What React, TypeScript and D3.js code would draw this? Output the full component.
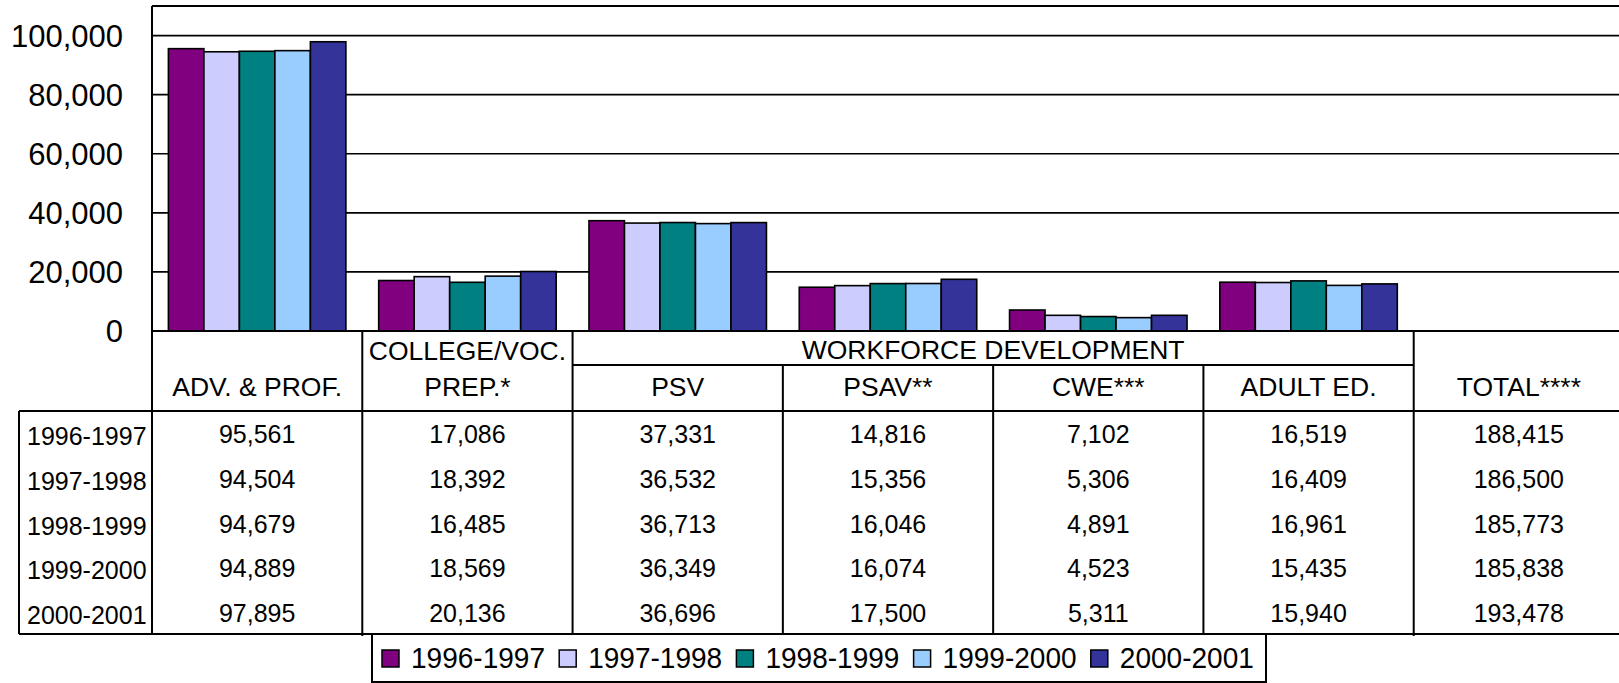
import React from "react";
import * as d3 from "d3";

const categories = ["ADV. & PROF.", "COLLEGE/VOC. PREP.*", "PSV", "PSAV**", "CWE***", "ADULT ED.", "TOTAL****"];
const headerLines = [["ADV. & PROF."], ["COLLEGE/VOC.", "PREP.*"], ["PSV"], ["PSAV**"], ["CWE***"], ["ADULT ED."], ["TOTAL****"]];
const groupLabel = "WORKFORCE DEVELOPMENT";
const groupMembers = ["PSV", "PSAV**", "CWE***", "ADULT ED."];
const plottedCategories = ["ADV. & PROF.", "COLLEGE/VOC. PREP.*", "PSV", "PSAV**", "CWE***", "ADULT ED."];

const years = ["1996-1997", "1997-1998", "1998-1999", "1999-2000", "2000-2001"];
const values1996 = [95561, 17086, 37331, 14816, 7102, 16519, 188415];
const values1997 = [94504, 18392, 36532, 15356, 5306, 16409, 186500];
const values1998 = [94679, 16485, 36713, 16046, 4891, 16961, 185773];
const values1999 = [94889, 18569, 36349, 16074, 4523, 15435, 185838];
const values2000 = [97895, 20136, 36696, 17500, 5311, 15940, 193478];
const seriesValues = [values1996, values1997, values1998, values1999, values2000];
const colors = ["#800080", "#CCCCFF", "#008080", "#99CCFF", "#333399"];
const yTicks = [0, 20000, 40000, 60000, 80000, 100000];
const yMax = 110000;

const W = 1619;
const H = 683;
const FONT = "'Liberation Sans', Arial, Helvetica, sans-serif";

export default function App() {
  const plotLeft = 152, plotRight = 1624, plotTop = 6, plotBottom = 331;
  const headerMid = 365, tableTop = 411, tableBottom = 634, rowLabelLeft = 19;

  const x = d3.scaleBand<string>().domain(categories).range([plotLeft, plotRight]);
  const bw = x.bandwidth();
  const groupW = bw * 0.844;
  const xInner = d3.scaleBand<string>().domain(years).range([0, groupW]);
  const y = d3.scaleLinear().domain([0, yMax]).range([plotBottom, plotTop]);
  const rowY = d3.scaleBand<string>().domain(years).range([tableTop, tableBottom]);
  const fmt = d3.format(",");

  const bars: JSX.Element[] = [];
  years.forEach((yr, si) => {
    plottedCategories.forEach((c) => {
      const ci = categories.indexOf(c);
      const v = seriesValues[si][ci];
      const x0 = (x(c) as number) + (bw - groupW) / 2 + (xInner(yr) as number);
      bars.push(
        <rect key={yr + c} x={x0} y={y(v)} width={xInner.bandwidth()} height={y(0) - y(v)}
          fill={colors[si]} stroke="#000" strokeWidth={1.6} />
      );
    });
  });

  const boundaries = categories.slice(1).map((c) => x(c) as number);
  const groupStart = x(groupMembers[0]) as number;
  const groupEnd = (x(groupMembers[groupMembers.length - 1]) as number) + bw;

  const legendLeft = 372, legendTop = 634, legendBottom = 682, legendRight = 1266;
  const legendStep = 177.2;

  return (
    <div style={{ position: "absolute", left: 0, top: 0 }}>
      <svg width={W} height={H} style={{ display: "block", background: "#fff" }} fontFamily={FONT}>
        <rect x={0} y={0} width={W} height={H} fill="#fff" />
        {/* gridlines */}
        {yTicks.filter((t) => t > 0).map((t) => (
          <line key={t} x1={plotLeft} x2={W} y1={y(t)} y2={y(t)} stroke="#000" strokeWidth={1.7} />
        ))}
        {/* plot top border */}
        <line x1={plotLeft} x2={W} y1={plotTop} y2={plotTop} stroke="#000" strokeWidth={2} />
        {/* y tick labels */}
        {yTicks.map((t) => (
          <text key={t} x={123} y={y(t) + 11} textAnchor="end" fontSize={31} fill="#000">{fmt(t)}</text>
        ))}
        {bars}
        {/* axis line */}
        <line x1={plotLeft} x2={W} y1={plotBottom} y2={plotBottom} stroke="#000" strokeWidth={2} />
        {/* plot left / first table line */}
        <line x1={plotLeft} x2={plotLeft} y1={plotTop} y2={tableBottom} stroke="#000" strokeWidth={2} />
        {/* table column boundaries */}
        {boundaries.map((bx, i) => {
          const inGroup = bx > groupStart + 1 && bx < groupEnd - 1;
          return (
            <line key={i} x1={bx} x2={bx} y1={inGroup ? headerMid : plotBottom} y2={tableBottom + 2}
              stroke="#000" strokeWidth={2} />
          );
        })}
        {/* group header underline */}
        <line x1={groupStart} x2={groupEnd} y1={headerMid} y2={headerMid} stroke="#000" strokeWidth={2} />
        <text x={(groupStart + groupEnd) / 2} y={359} textAnchor="middle" fontSize={26.5}>{groupLabel}</text>
        {/* category headers */}
        {categories.map((c, i) => {
          const lines = headerLines[i];
          const cx = (x(c) as number) + bw / 2;
          return lines.map((ln, k) => (
            <text key={c + k} x={cx} y={396 - (lines.length - 1 - k) * 36} textAnchor="middle" fontSize={26.5}>{ln}</text>
          ));
        })}
        {/* table top & bottom lines */}
        <line x1={rowLabelLeft} x2={W} y1={tableTop} y2={tableTop} stroke="#000" strokeWidth={2} />
        <line x1={rowLabelLeft} x2={W} y1={tableBottom} y2={tableBottom} stroke="#000" strokeWidth={2} />
        <line x1={rowLabelLeft} x2={rowLabelLeft} y1={tableTop} y2={tableBottom} stroke="#000" strokeWidth={2} />
        {/* row labels and values */}
        {years.map((yr, si) => {
          const cy = (rowY(yr) as number) + rowY.bandwidth() / 2;
          return (
            <g key={yr}>
              <text x={27} y={cy + 12} fontSize={25}>{yr}</text>
              {categories.map((c, ci) => (
                <text key={c} x={(x(c) as number) + bw / 2} y={cy + 10} textAnchor="middle" fontSize={25}>
                  {fmt(seriesValues[si][ci])}
                </text>
              ))}
            </g>
          );
        })}
        {/* legend */}
        <rect x={legendLeft} y={legendTop} width={legendRight - legendLeft} height={legendBottom - legendTop}
          fill="#fff" stroke="#000" strokeWidth={2} />
        {years.map((yr, si) => (
          <g key={yr} transform={`translate(${legendLeft + 10 + si * legendStep},0)`}>
            <rect x={0} y={650} width={17} height={17} fill={colors[si]} stroke="#000" strokeWidth={1.5} />
            <text x={29} y={668} fontSize={29} textLength={134} lengthAdjust="spacingAndGlyphs">{yr}</text>
          </g>
        ))}
      </svg>
    </div>
  );
}
